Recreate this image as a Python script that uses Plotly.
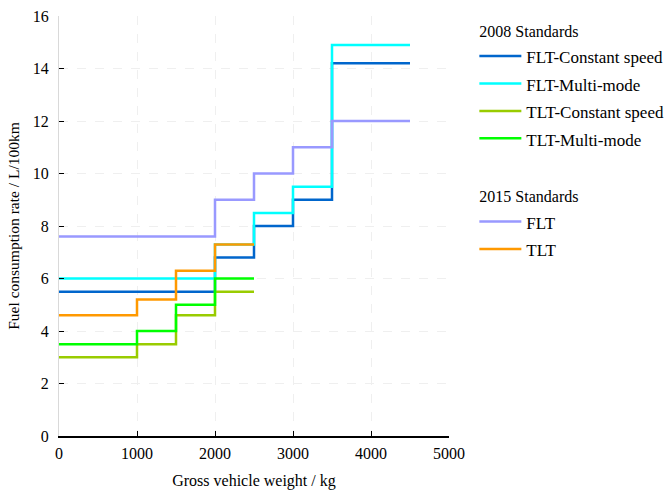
import plotly.graph_objects as go

# Gross vehicle weight class boundaries (kg)
weights_flt = [0, 2000, 2500, 3000, 3500, 4500]
weights_tlt = [0, 1000, 1500, 2000, 2500]

# 2008 standards (L/100km), one value per weight class
flt_constant = [5.5, 6.8, 8.0, 9.0, 14.2]
flt_multi = [6.0, 7.3, 8.5, 9.5, 14.9]
tlt_constant = [3.0, 3.5, 4.6, 5.5]
tlt_multi = [3.5, 4.0, 5.0, 6.0]

# 2015 standards (L/100km)
flt_2015 = [7.6, 9.0, 10.0, 11.0, 12.0]
tlt_2015 = [4.6, 5.2, 6.3, 7.3]

x_ticks = [0, 1000, 2000, 3000, 4000, 5000]
y_ticks = [0, 2, 4, 6, 8, 10, 12, 14, 16]

FONT = "Liberation Serif, Times New Roman, serif"

series = [
    ("FLT-Constant speed", weights_flt, flt_constant, "#0066CC", "g2008", "2008 Standards"),
    ("FLT-Multi-mode", weights_flt, flt_multi, "#00FFFF", "g2008", "2008 Standards"),
    ("TLT-Constant speed", weights_tlt, tlt_constant, "#99CC00", "g2008", "2008 Standards"),
    ("TLT-Multi-mode", weights_tlt, tlt_multi, "#00FF00", "g2008", "2008 Standards"),
    ("FLT", weights_flt, flt_2015, "#9999FF", "g2015", "2015 Standards"),
    ("TLT", weights_tlt, tlt_2015, "#FF9900", "g2015", "2015 Standards"),
]

fig = go.Figure()
for name, xs, ys, color, group, gtitle in series:
    # step line: each class value holds until the next boundary
    fig.add_trace(go.Scatter(
        x=xs,
        y=list(ys) + [ys[-1]],
        mode="lines",
        line=dict(color=color, width=2.5, shape="hv"),
        name='<span style="font-size:17px">' + name + "</span>",
        legendgroup=group,
        legendgrouptitle=dict(text=gtitle, font=dict(family=FONT, size=16, color="#000")),
    ))

axis_common = dict(
    showgrid=True,
    gridcolor="#EFEFEF",
    griddash="dash",
    gridwidth=1,
    zeroline=False,
    ticks="inside",
    ticklen=5,
    tickwidth=1.3,
    tickcolor="#000",
    tickfont=dict(family=FONT, size=16, color="#000"),
    automargin=False,
)

fig.update_xaxes(
    range=[0, 5000],
    tickvals=x_ticks,
    showline=True,
    linecolor="#000",
    linewidth=1.5,
    ticklabelstandoff=2,
    title=dict(text="Gross vehicle weight / kg", font=dict(family=FONT, size=16, color="#000"), standoff=14),
    **axis_common,
)
fig.update_yaxes(
    range=[0, 16],
    tickvals=y_ticks,
    showline=True,
    linecolor="#D9D9D9",
    linewidth=1,
    ticklabelstandoff=6,
    title=dict(text="Fuel consumption rate / L/100km", font=dict(family=FONT, size=15.5, color="#000"), standoff=9),
    **axis_common,
)

fig.update_layout(
    width=666,
    height=494,
    margin=dict(l=59, r=217, t=16, b=58, autoexpand=False),
    paper_bgcolor="white",
    plot_bgcolor="white",
    font=dict(family=FONT, size=16, color="#000"),
    legend=dict(
        x=1.065,
        y=1.006,
        xanchor="left",
        yanchor="top",
        font=dict(family=FONT, size=18.8, color="#000"),
        tracegroupgap=32,
        itemwidth=42,
        bgcolor="rgba(0,0,0,0)",
        groupclick="toggleitem",
    ),
    showlegend=True,
)

fig.write_html("out.html")
